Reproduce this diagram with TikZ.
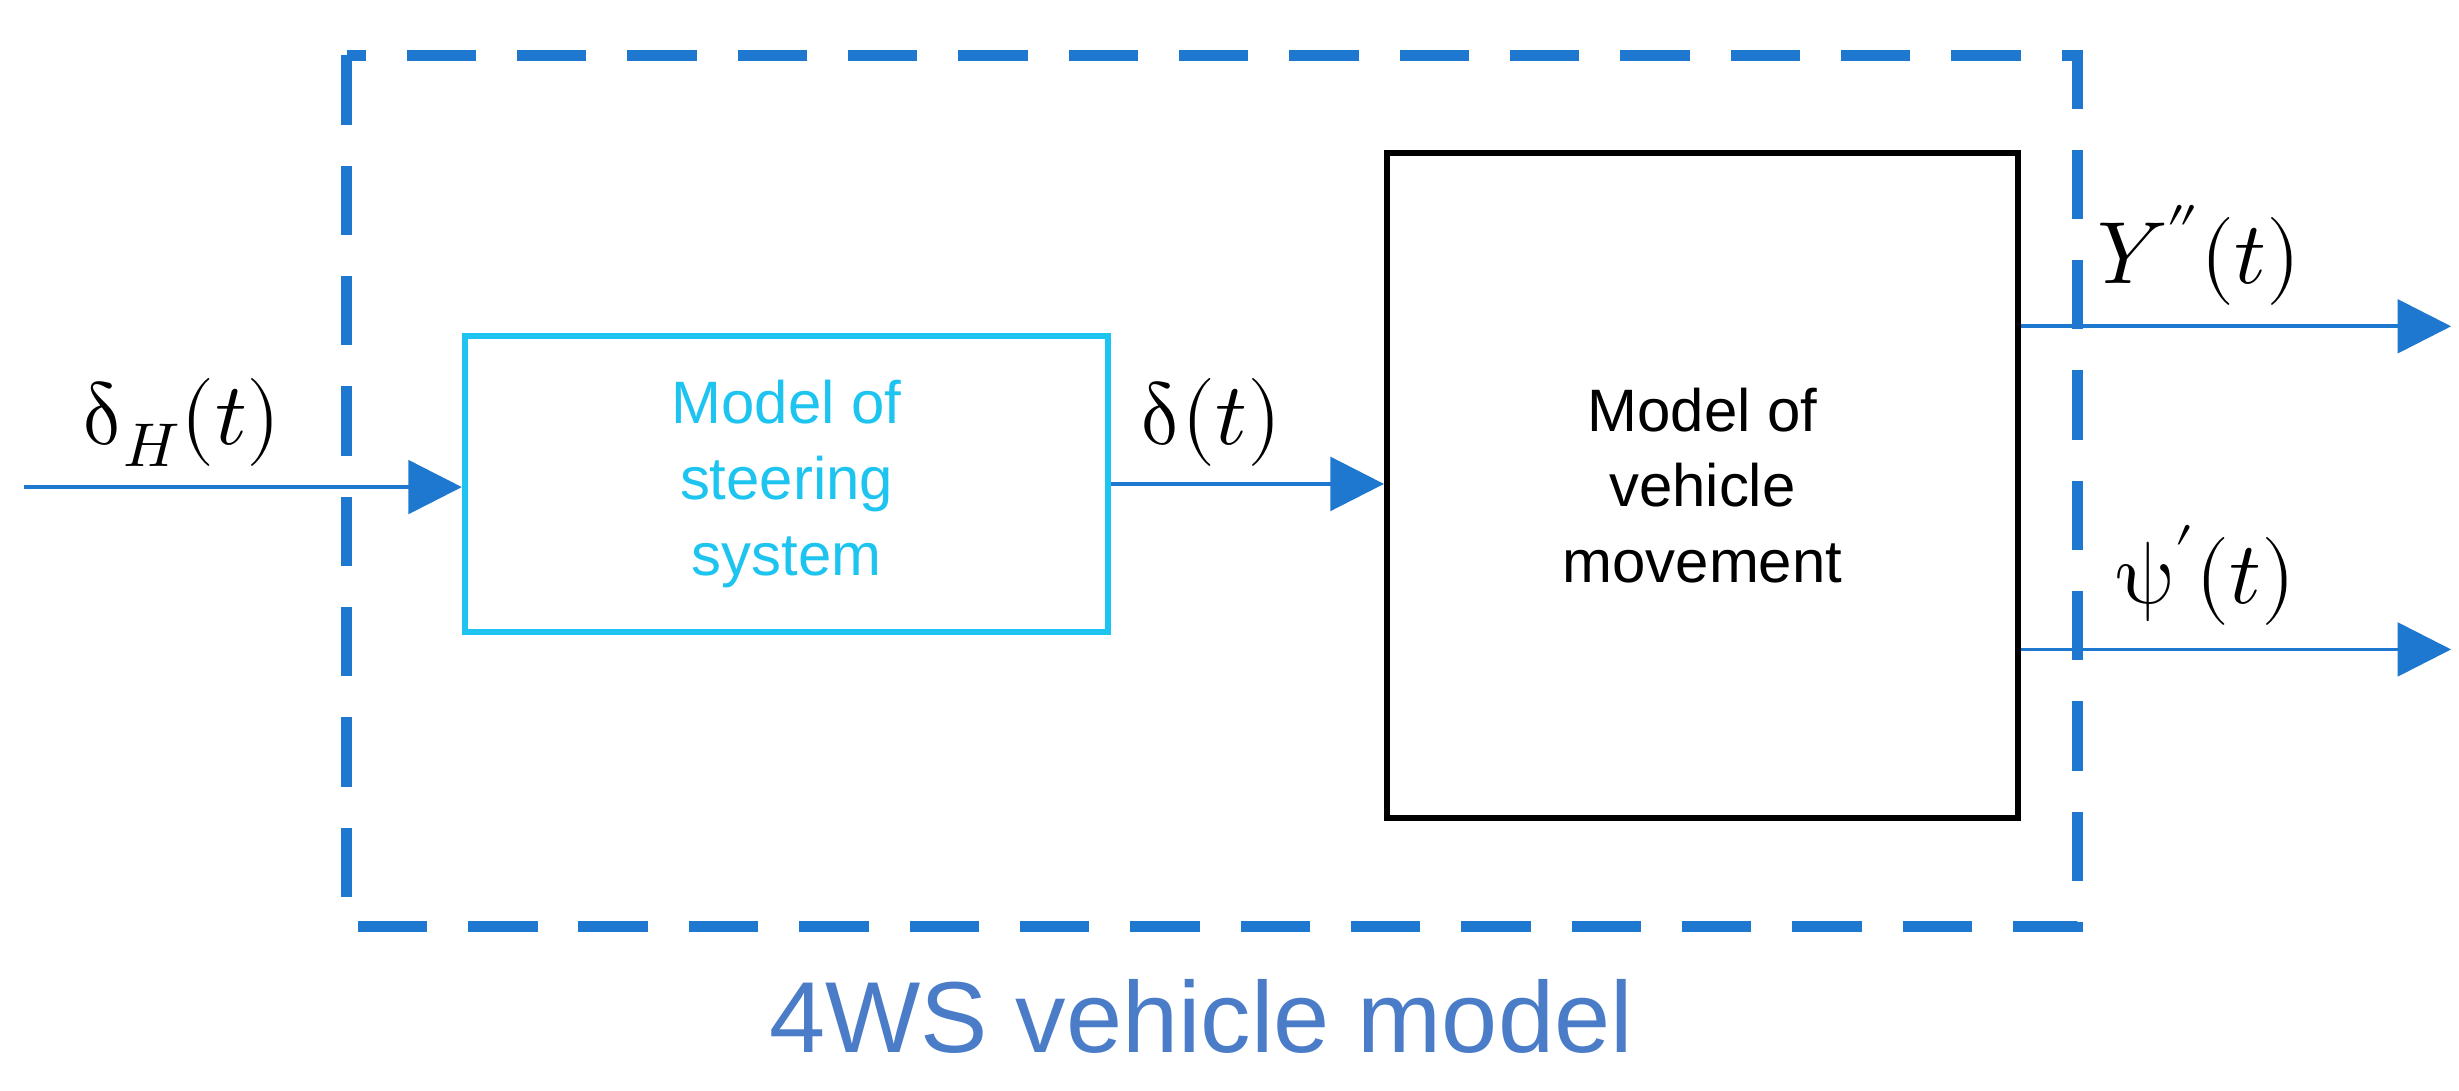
\documentclass[tikz,border=0pt]{standalone}
\usepackage{fontspec}
\setmainfont{Liberation Sans}
\usepackage{unicode-math}
\setmathfont{Latin Modern Math}
\usetikzlibrary{arrows.meta}
\definecolor{dblue}{HTML}{1F78CF}
\definecolor{cyanb}{HTML}{1EC4F0}
\definecolor{capb}{HTML}{4A7CC8}
\begin{document}
\begin{tikzpicture}[x=0.5pt,y=-0.5pt,
  sig/.style={draw=dblue,line width=1.2pt,-{Triangle[length=17pt,width=17pt]}},
  lab/.style={font=\fontsize{28}{32}\selectfont},
  btxt/.style={font=\fontsize{19}{24}\selectfont,align=center}]
\useasboundingbox (0,0) rectangle (1560,692);
\draw[dblue,line width=3.5pt,dash pattern=on 22pt off 13pt] (220,35) rectangle (1318,588);
\node[draw=cyanb,line width=2pt,minimum width=204pt,minimum height=94pt,text=cyanb,btxt] (s) at (499,307) {Model of\\steering\\system};
\node[draw=black,line width=2pt,minimum width=200pt,minimum height=211pt,btxt] (v) at (1080,308) {Model of\\vehicle\\movement};
\coordinate (in) at (15,309);
\coordinate (o1) at (1555,207);
\coordinate (o2) at (1555,412);
\draw[sig] (in) -- (s.west|-in);
\draw[sig] (s.east) -- (v.west|-s.east);
\draw[sig] (v.east|-o1) -- (o1);
\draw[sig] (v.east|-o2) -- (o2);
\node[lab] (l1) at (115,268) {$\symup{\delta}_H(t)$};
\node[lab] (l2) at (768,268) {$\symup{\delta}(t)$};
\node[lab] (l3) at (1395,162) {$Y''(t)$};
\node[lab] (l4) at (1400,365) {$\symup{\psi}'(t)$};
\node[text=capb,font=\fontsize{32}{38}\selectfont] (cap) at (762,645) {4WS vehicle model};
\end{tikzpicture}
\end{document}
